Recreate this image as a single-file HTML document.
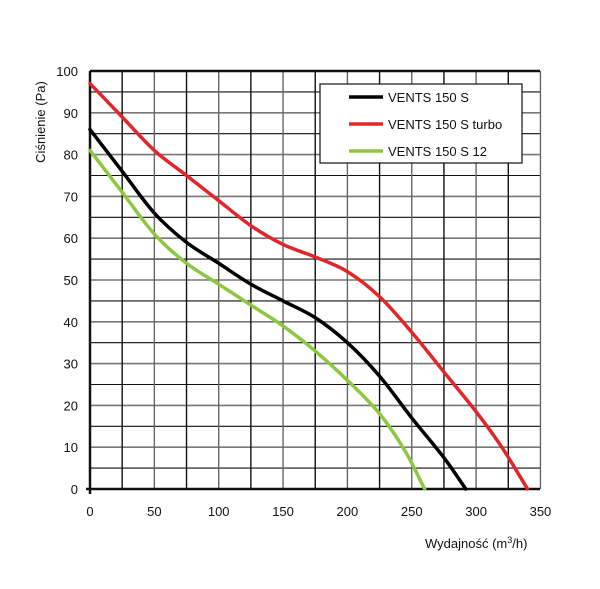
<!DOCTYPE html>
<html><head><meta charset="utf-8"><style>body{margin:0;background:#fff}svg{display:block}text{font-family:"Liberation Sans",sans-serif;fill:#111}</style></head>
<body>
<svg id="s" width="600" height="589" xmlns="http://www.w3.org/2000/svg">
<g id="grid"></g>
<g id="curves" fill="none" stroke-width="3.5" stroke-linejoin="round" stroke-linecap="round"></g>
<rect x="320" y="84" width="202" height="79" fill="#fff" stroke="#111" stroke-width="1.2"/>
<line x1="349" y1="97" x2="383" y2="97" stroke="#000" stroke-width="3.5"/>
<line x1="349" y1="124" x2="383" y2="124" stroke="#e0262b" stroke-width="3.5"/>
<line x1="349" y1="151" x2="383" y2="151" stroke="#8dc63f" stroke-width="3.5"/>
<text x="388" y="102" font-size="13">VENTS 150 S</text>
<text x="388" y="129" font-size="13">VENTS 150 S turbo</text>
<text x="388" y="156" font-size="13">VENTS 150 S 12</text>
<text x="425" y="548" font-size="13">Wydajność (m<tspan font-size="9" dy="-5">3</tspan><tspan dy="5">/h)</tspan></text>
<text transform="translate(45,122) rotate(-90)" text-anchor="middle" font-size="13">Ciśnienie (Pa)</text>
<g id="labels" font-size="13"></g>
</svg>
<script>
const X=v=>90+1.287*v, Y=v=>489-4.18*v;
let g='';
for(let i=0;i<=20;i++){const y=Y(i*5);const major=i%2==0;g+=`<line x1="90" x2="540" y1="${y}" y2="${y}" stroke="${major?'#777':'#111'}" stroke-width="${major?1.6:1.1}"/>`;}
for(let i=0;i<=14;i++){const x=X(i*25);g+=`<line x1="${x}" x2="${x}" y1="${Y(100)}" y2="489" stroke="${i%2==0?'#666':'#111'}" stroke-width="1.4"/>`;}
g+=`<line x1="90" x2="90" y1="${Y(100)}" y2="494" stroke="#111" stroke-width="2.5"/><line x1="86" x2="540" y1="489" y2="489" stroke="#111" stroke-width="2.5"/><line x1="90" x2="540" y1="${Y(100)}" y2="${Y(100)}" stroke="#111" stroke-width="2.5"/>`;
document.getElementById('grid').innerHTML=g;
let l='';
for(let i=0;i<=10;i++)l+=`<text x="78" y="${Y(i*10)+5}" text-anchor="end">${i*10}</text>`;
for(let i=0;i<=7;i++)l+=`<text x="${X(i*50)}" y="516" text-anchor="middle">${i*50}</text>`;
document.getElementById('labels').innerHTML=l;
const data={
'#000':[[0,86],[25,76],[50,66],[75,59],[100,54],[125,49],[150,45],[175,41],[200,35],[225,27],[250,17],[275,7.5],[292,0]],
'#e0262b':[[0,97],[25,89],[50,81],[75,75],[100,69],[125,63],[150,58.5],[175,55.5],[200,52],[225,46],[250,37.5],[275,28],[300,18.5],[320,10],[340,0]],
'#8dc63f':[[0,81],[25,71],[50,61],[75,54],[100,49],[125,44],[150,39],[175,33],[200,26],[225,18],[245,9],[260,0]]};
let c='';
for(const col in data){const p=data[col].map(([a,b])=>[X(a),Y(b)]);let d=`M${p[0][0]},${p[0][1]}`;
for(let i=0;i<p.length-1;i++){const p0=p[i-1]||p[i],p1=p[i],p2=p[i+1],p3=p[i+2]||[2*p2[0]-p1[0],2*p2[1]-p1[1]];
d+=` C${p1[0]+(p2[0]-p0[0])/6},${p1[1]+(p2[1]-p0[1])/6} ${p2[0]-(p3[0]-p1[0])/6},${p2[1]-(p3[1]-p1[1])/6} ${p2[0]},${p2[1]}`;}
c+=`<path d="${d}" stroke="${col}"/>`;}
document.getElementById('curves').innerHTML=c;
</script>
</body></html>
